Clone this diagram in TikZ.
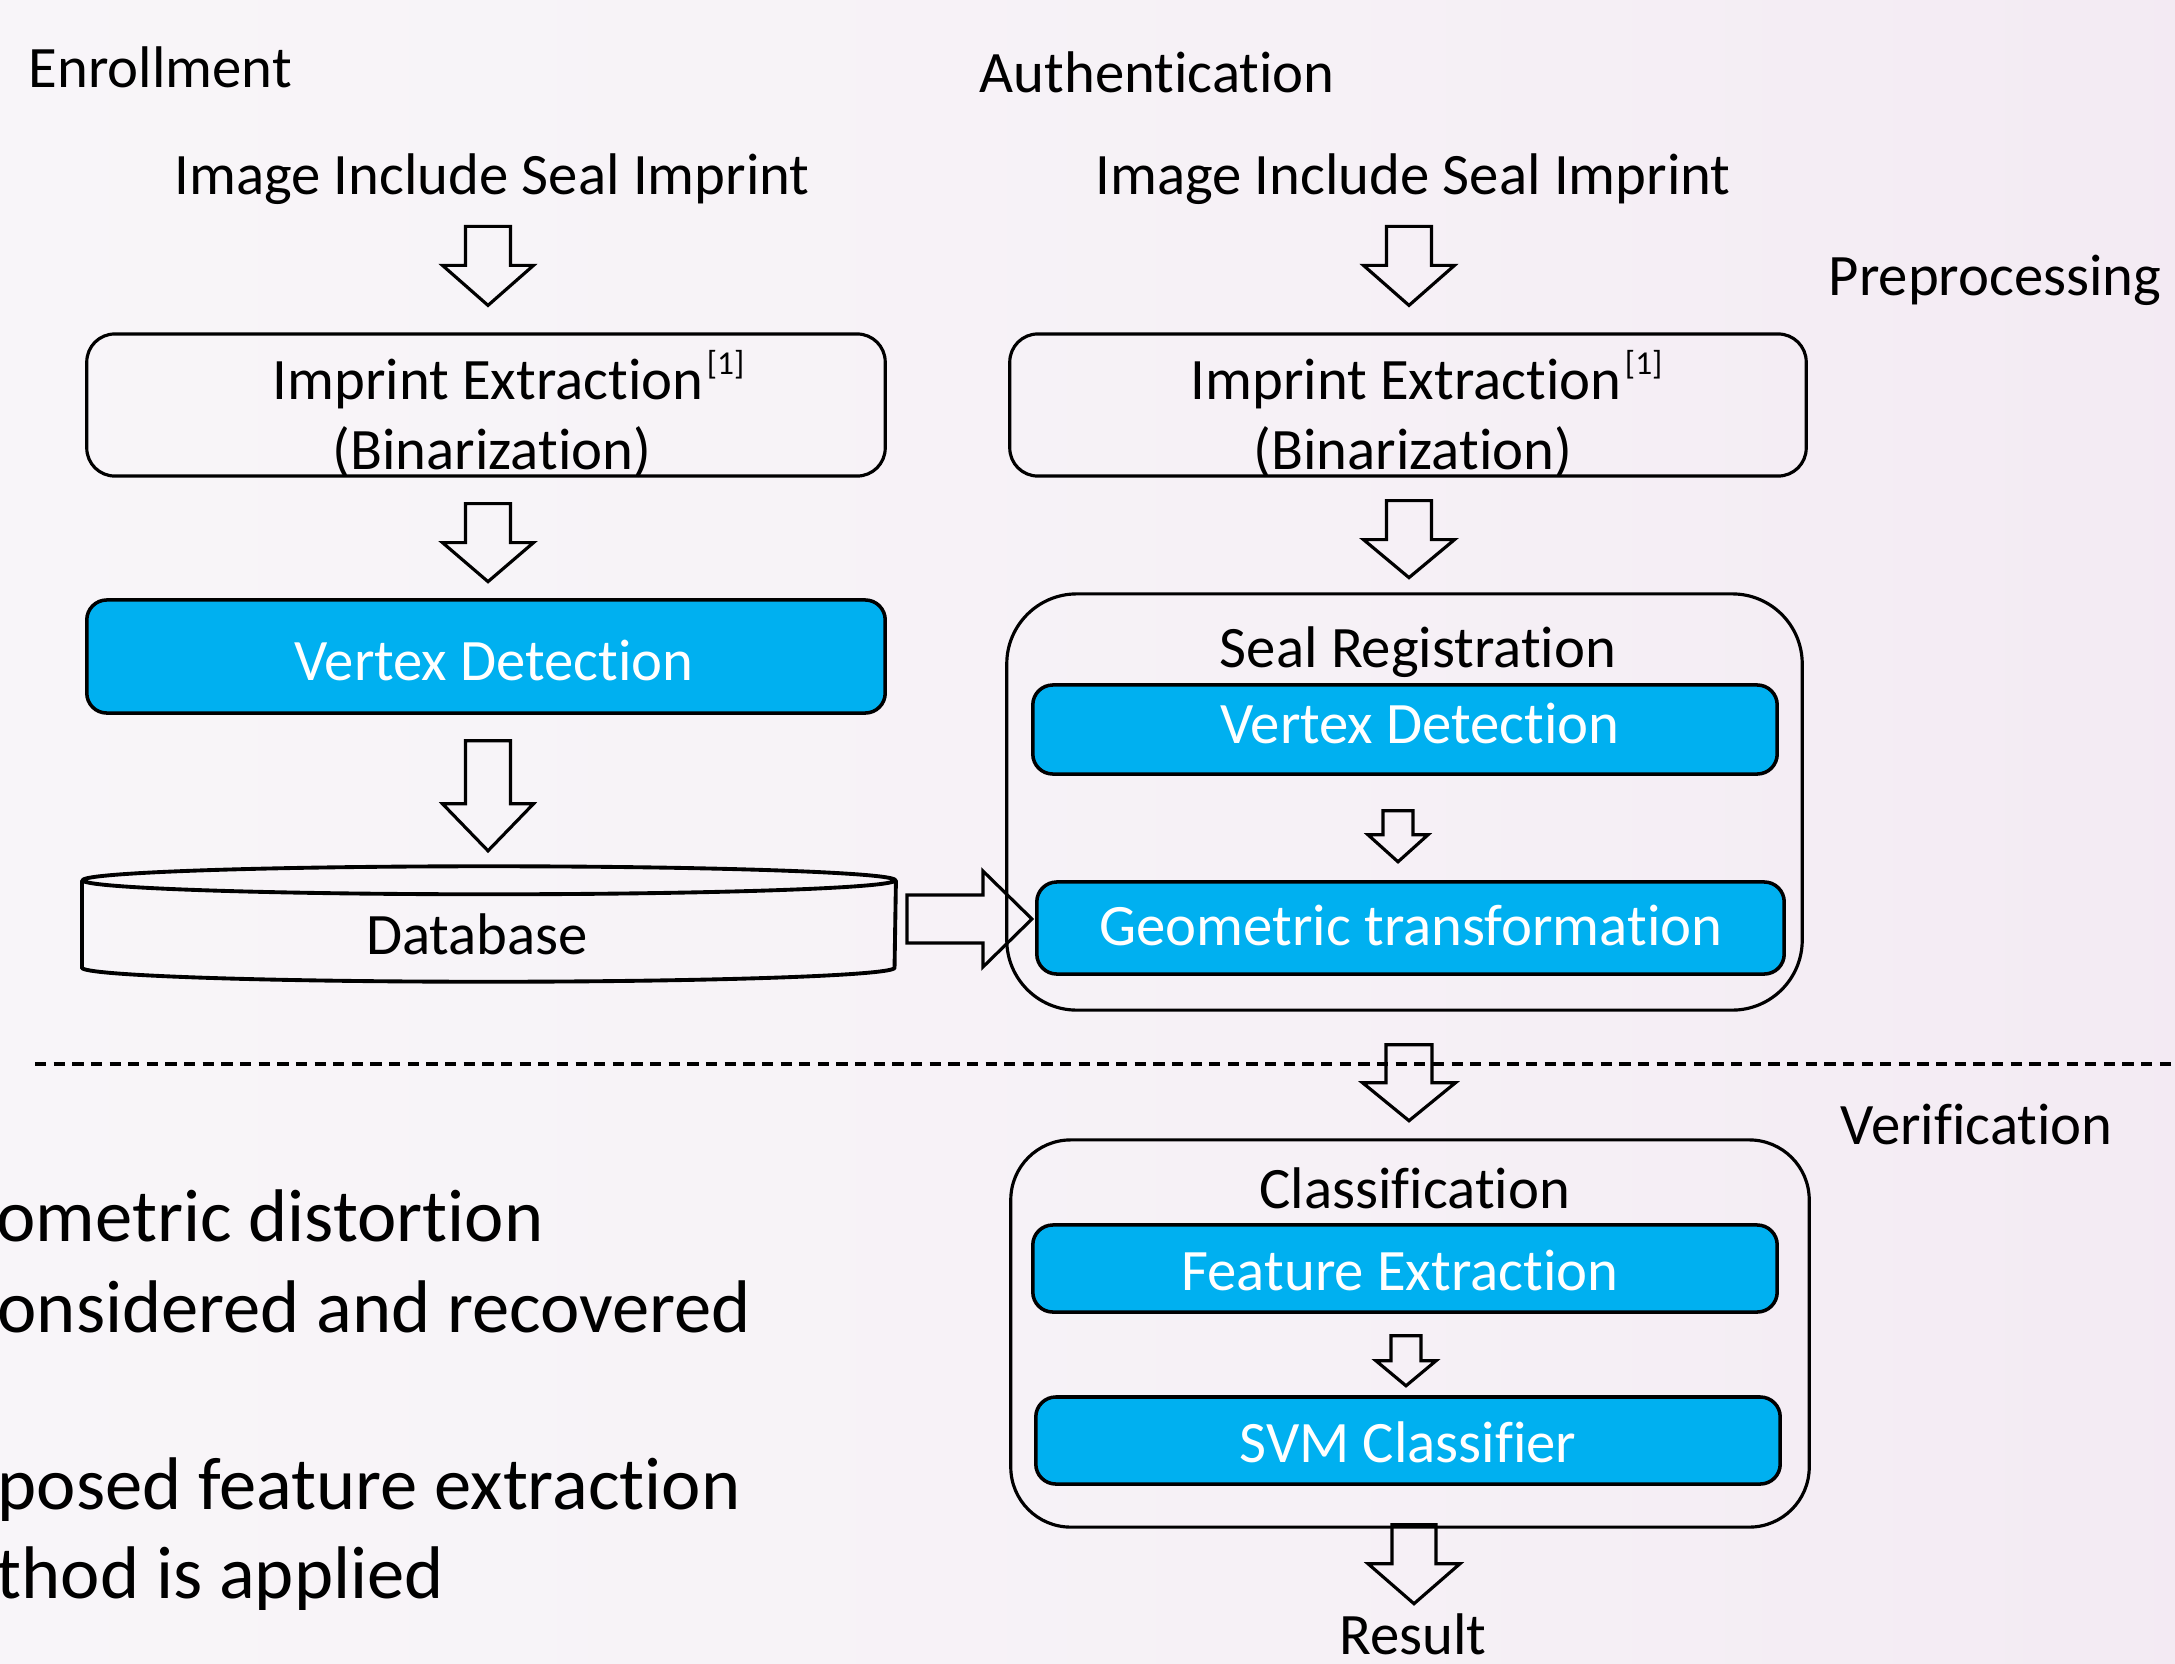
\documentclass[tikz,border=0pt]{standalone}
\usepackage{fontspec}
\setmainfont{Carlito}[Ligatures=NoCommon]
\usetikzlibrary{calc}

\definecolor{boxblue}{HTML}{00B0F0}
\definecolor{bgA}{HTML}{FAF9FB}
\definecolor{bgB}{HTML}{F6F1F6}
\definecolor{bgC}{HTML}{EFE2EF}
\pgfdeclarehorizontalshading{slidebg}{100bp}{color(0bp)=(bgA); color(55bp)=(bgB); color(100bp)=(bgC)}

% hollow block arrow pointing down: #1 top centre, #2 tip, #3 shaft half width, #4 head half width, #5 head length
\newcommand{\downblock}[5]{%
  \draw[blockarrow] ($(#1)+(-#3,0)$) -- ($(#1)+(#3,0)$) -- ($(#1|-#2)+(#3,-#5)$)
    -- ($(#1|-#2)+(#4,-#5)$) -- (#1|-#2) -- ($(#1|-#2)+(-#4,-#5)$)
    -- ($(#1|-#2)+(-#3,-#5)$) -- cycle;}
% hollow block arrow pointing right: #1 tail centre, #2 tip, #3 shaft half height, #4 head half height, #5 head length
\newcommand{\rightblock}[5]{%
  \draw[blockarrow] ($(#1)+(0,-#3)$) -- ($(#2|-#1)+(-#5,-#3)$) -- ($(#2|-#1)+(-#5,-#4)$)
    -- (#2|-#1) -- ($(#2|-#1)+(-#5,#4)$) -- ($(#2|-#1)+(-#5,#3)$) -- ($(#1)+(0,#3)$) -- cycle;}

\newcommand{\refmark}{\rlap{\hspace{1pt}\raisebox{7pt}{\fontsize{9.5}{11}\selectfont[1]}}}

\begin{document}
\begin{tikzpicture}[x=0.01cm, y=-0.01cm,
  font=\fontsize{16.7}{20}\selectfont,
  lbl/.style={inner sep=0pt, anchor=base},
  bigtxt/.style={inner sep=0pt, anchor=base west, font=\fontsize{21.2}{25}\selectfont},
  plainbox/.style={draw, line width=0.9pt, rounded corners=0.28cm, inner sep=0pt},
  bluebox/.style={draw, line width=1pt, fill=boxblue, rounded corners=0.2cm, inner sep=0pt},
  groupbox/.style={draw, line width=0.9pt, inner sep=0pt},
  blockarrow/.style={draw, line width=0.9pt, line join=miter},
  dbline/.style={line width=1.1pt},
  sepline/.style={line width=1.1pt, dash pattern=on 3.2pt off 2.1pt}]

\useasboundingbox (0,0) rectangle (2175,1663);
\fill[shading=slidebg] (0,0) rectangle (2175,1663);

% column headings
\node[lbl, anchor=base west] (enr) at (28,87) {Enrollment};
\node[lbl, anchor=base west] (auth) at (979,92) {Authentication};
\node[lbl] (img1) at (492,194) {Image Include Seal Imprint};
\node[lbl] (img2) at (1413,194) {Image Include Seal Imprint};
\node[lbl, anchor=base west] (pre) at (1828,295) {Preprocessing};
\node[lbl, anchor=base west] (ver) at (1840,1144) {Verification};

% enrollment column
\node[plainbox, minimum width=7.98cm, minimum height=1.42cm] (ie1) at (486,405) {};
\node[lbl] (ie1a) at (488,399) {Imprint Extraction\refmark};
\node[lbl] (ie1b) at (492,469) {(Binarization)};
\node[bluebox, minimum width=7.98cm, minimum height=1.13cm] (vd1) at (486,656.5) {};
\node[lbl, text=white] (vd1t) at (494,680) {Vertex Detection};
\node[inner sep=0pt, minimum width=8.12cm, minimum height=0.86cm] (db) at (489,924) {};
\draw[dbline] (db.north west) -- (db.south west)
  arc[start angle=180, end angle=360, x radius=4.06cm, y radius=0.14cm] -- (db.north east);
\draw[dbline] (db.north) ellipse[x radius=4.06cm, y radius=0.14cm];
\node[lbl] (dbt) at (477,954) {Database};

% authentication column
\node[plainbox, minimum width=7.96cm, minimum height=1.42cm] (ie2) at (1408,405) {};
\node[lbl] (ie2a) at (1406,399) {Imprint Extraction\refmark};
\node[lbl] (ie2b) at (1413,469) {(Binarization)};

\node[groupbox, rounded corners=0.7cm, minimum width=7.95cm, minimum height=4.16cm] (seal) at (1404.5,802) {};
\node[lbl] (sealt) at (1418,667) {Seal Registration};
\node[bluebox, minimum width=7.44cm, minimum height=0.89cm] (vd2) at (1405,729.5) {};
\node[lbl, text=white] (vd2t) at (1420,743) {Vertex Detection};
\node[bluebox, minimum width=7.47cm, minimum height=0.92cm] (geo) at (1410.5,928) {};
\node[lbl, text=white] (geot) at (1411,945) {Geometric transformation};

\node[groupbox, rounded corners=0.6cm, minimum width=7.98cm, minimum height=3.87cm] (cls) at (1410,1333.5) {};
\node[lbl] (clst) at (1415,1208) {Classification};
\node[bluebox, minimum width=7.44cm, minimum height=0.87cm] (fe) at (1405,1268.5) {};
\node[lbl, text=white] (fet) at (1400,1290) {Feature Extraction};
\node[bluebox, minimum width=7.44cm, minimum height=0.87cm] (svm) at (1408,1440.5) {};
\node[lbl, text=white] (svmt) at (1408,1462) {SVM Classifier};
\node[lbl] (res) at (1413,1654) {Result};

% separator between preprocessing and verification
\coordinate (sepL) at (35,1064);
\coordinate (sepR) at (2175,1064);
\draw[sepline] (sepL) -- (sepR);

% block arrows, enrollment
\coordinate (a1t) at ($(ie1.north)+(2,-106)$);  \coordinate (a1b) at ($(ie1.north)+(2,-27)$);
\downblock{a1t}{a1b}{22.5}{45.5}{40}
\coordinate (a2t) at ($(ie1.south)+(2,26)$);    \coordinate (a2b) at ($(ie1.south)+(2,104)$);
\downblock{a2t}{a2b}{22.5}{45.5}{39}
\coordinate (a3t) at ($(vd1.south)+(2,26)$);    \coordinate (a3b) at ($(vd1.south)+(2,136)$);
\downblock{a3t}{a3b}{22.5}{45.5}{47}

% block arrows, authentication
\coordinate (b1t) at ($(ie2.north)+(1,-106)$);  \coordinate (b1b) at ($(ie2.north)+(1,-27)$);
\downblock{b1t}{b1b}{22.5}{45.5}{40}
\coordinate (b2t) at ($(ie2.south)+(1,23)$);    \coordinate (b2b) at ($(ie2.south)+(1,100)$);
\downblock{b2t}{b2b}{22.5}{45.5}{38}
\coordinate (b3t) at ($(vd2.south)+(-7,35)$);   \coordinate (b3b) at ($(vd2.south)+(-7,86)$);
\downblock{b3t}{b3b}{15}{30}{27}
\coordinate (b4t) at ($(seal.south)+(4.5,33)$); \coordinate (b4b) at ($(seal.south)+(4.5,109)$);
\downblock{b4t}{b4b}{23}{46.5}{38}
\coordinate (b5t) at ($(fe.south)+(1,22)$);     \coordinate (b5b) at ($(fe.south)+(1,72)$);
\downblock{b5t}{b5b}{15}{30}{25}
\coordinate (b6t) at ($(cls.south)+(4,-4)$);    \coordinate (b6b) at ($(cls.south)+(4,75)$);
\downblock{b6t}{b6b}{22}{46}{40}

% database feeds the geometric transformation
\coordinate (dbt0) at ($(db.east)+(11,-5)$);    \coordinate (dbt1) at ($(db.east)+(136,-5)$);
\rightblock{dbt0}{dbt1}{24}{48}{49}

% notes on the left
\node[bigtxt] (n1) at (-4,1241) {ometric distortion};
\node[bigtxt] (n2) at (-3,1332) {onsidered and recovered};
\node[bigtxt] (n3) at (-3,1509) {posed feature extraction};
\node[bigtxt] (n4) at (-4,1598) {thod is applied};

\end{tikzpicture}
\end{document}
